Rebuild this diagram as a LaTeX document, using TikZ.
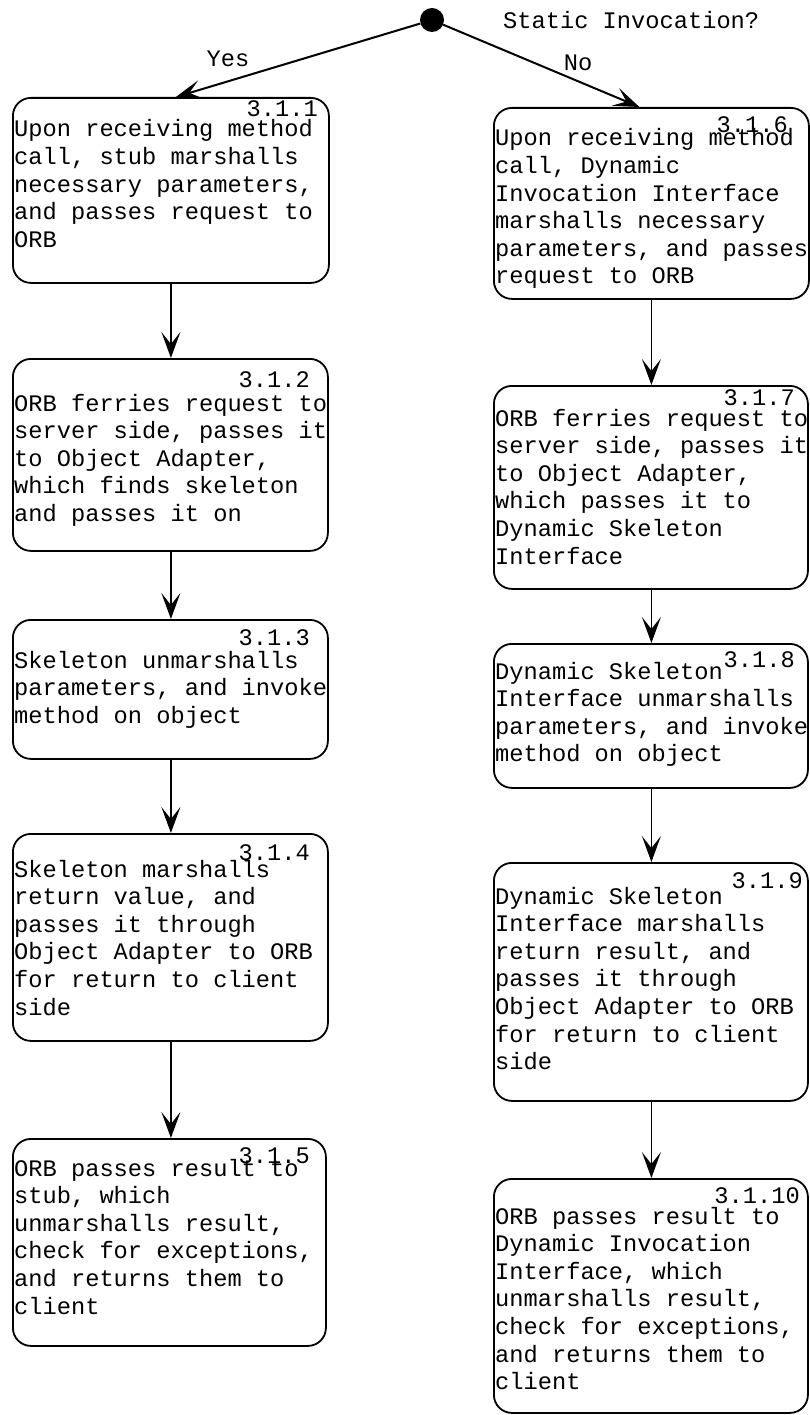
\documentclass[tikz,border=0pt]{standalone}
\usepackage{fontspec}
\setmonofont{Liberation Mono}
\usetikzlibrary{arrows.meta}
\newcommand\boxfont{\ttfamily\fontsize{23.7}{27.6}\selectfont}
\newcommand\steptext[1]{\parbox[t]{330pt}{\raggedright #1}}
\begin{document}
\begin{tikzpicture}[x=1pt,y=-1pt,
  stepbox/.style={draw, line width=1.8pt, rounded corners=18pt, inner sep=0pt, anchor=north west},
  txt/.style={anchor=base west, inner sep=0pt, font=\boxfont},
  num/.style={anchor=base east, inner sep=0pt, font=\boxfont},
  flow/.style={line width=1.4pt, -{Stealth[length=26pt,width=19pt,inset=12pt]}},
  branch/.style={line width=2pt, -{Stealth[length=26pt,width=19pt,inset=12pt]}},
]
\useasboundingbox (0,0) rectangle (810,1415);

% start of the decision
\node[circle, fill, inner sep=0pt, minimum size=24pt] (start) at (432,20) {};
\node[txt] (question) at (503,29) {Static Invocation?};

% static invocation column
\node[stepbox, minimum width=316pt, minimum height=185pt] (b1) at (12,97) {};
\node[stepbox, minimum width=315pt, minimum height=192pt] (b2) at (12,358) {};
\node[stepbox, minimum width=315pt, minimum height=139pt] (b3) at (12,619) {};
\node[stepbox, minimum width=315pt, minimum height=207pt] (b4) at (12,833) {};
\node[stepbox, minimum width=313pt, minimum height=207pt] (b5) at (12,1138) {};

% dynamic invocation column
\node[stepbox, minimum width=315pt, minimum height=191pt] (b6) at (493,107) {};
\node[stepbox, minimum width=314pt, minimum height=203pt] (b7) at (493,385) {};
\node[stepbox, minimum width=314pt, minimum height=144pt] (b8) at (493,643) {};
\node[stepbox, minimum width=314pt, minimum height=238pt] (b9) at (493,862) {};
\node[stepbox, minimum width=314pt, minimum height=234pt] (b10) at (493,1178) {};

% step numbers
\node[num] (n1) at (318,117) {3.1.1};
\node[num] (n2) at (310,387) {3.1.2};
\node[num] (n3) at (310,645) {3.1.3};
\node[num] (n4) at (310,860) {3.1.4};
\node[num] (n5) at (310,1163) {3.1.5};
\node[num] (n6) at (788,133) {3.1.6};
\node[num] (n7) at (795,405) {3.1.7};
\node[num] (n8) at (795,667) {3.1.8};
\node[num] (n9) at (803,888) {3.1.9};
\node[num] (n10) at (800,1203) {3.1.10};

% step descriptions
\node[txt] (t1) at (14,137) {\steptext{Upon receiving method\\call, stub marshalls\\necessary parameters,\\and passes request to\\ORB}};
\node[txt] (t2) at (14,411) {\steptext{ORB ferries request to\\server side, passes it\\to Object Adapter,\\which finds skeleton\\and passes it on}};
\node[txt] (t3) at (14,668) {\steptext{Skeleton unmarshalls\\parameters, and invoke\\method on object}};
\node[txt] (t4) at (14,877) {\steptext{Skeleton marshalls\\return value, and\\passes it through\\Object Adapter to ORB\\for return to client\\side}};
\node[txt] (t5) at (14,1176) {\steptext{ORB passes result to\\stub, which\\unmarshalls result,\\check for exceptions,\\and returns them to\\client}};
\node[txt] (t6) at (495,146) {\steptext{Upon receiving method\\call, Dynamic\\Invocation Interface\\marshalls necessary\\parameters, and passes\\request to ORB}};
\node[txt] (t7) at (495,426) {\steptext{ORB ferries request to\\server side, passes it\\to Object Adapter,\\which passes it to\\Dynamic Skeleton\\Interface}};
\node[txt] (t8) at (495,679) {\steptext{Dynamic Skeleton\\Interface unmarshalls\\parameters, and invoke\\method on object}};
\node[txt] (t9) at (495,904) {\steptext{Dynamic Skeleton\\Interface marshalls\\return result, and\\passes it through\\Object Adapter to ORB\\for return to client\\side}};
\node[txt] (t10) at (495,1224) {\steptext{ORB passes result to\\Dynamic Invocation\\Interface, which\\unmarshalls result,\\check for exceptions,\\and returns them to\\client}};

% branch labels
\node[font=\boxfont, anchor=base, inner sep=0pt] (yes) at (228,67) {Yes};
\node[font=\boxfont, anchor=base, inner sep=0pt] (no) at (578,71) {No};

% branches
\draw[branch] (start) -- ([xshift=5pt]b1.north);
\draw[branch] (start) -- ([xshift=-12pt]b6.north);

% flow within each column, kept vertical
\draw[flow] (b1.south) -- (b1.south |- b2.north);
\draw[flow] (b1.south |- b2.south) -- (b1.south |- b3.north);
\draw[flow] (b1.south |- b3.south) -- (b1.south |- b4.north);
\draw[flow] (b1.south |- b4.south) -- (b1.south |- b5.north);
\draw[flow] (b6.south) -- (b6.south |- b7.north);
\draw[flow] (b6.south |- b7.south) -- (b6.south |- b8.north);
\draw[flow] (b6.south |- b8.south) -- (b6.south |- b9.north);
\draw[flow] (b6.south |- b9.south) -- (b6.south |- b10.north);
\end{tikzpicture}
\end{document}
